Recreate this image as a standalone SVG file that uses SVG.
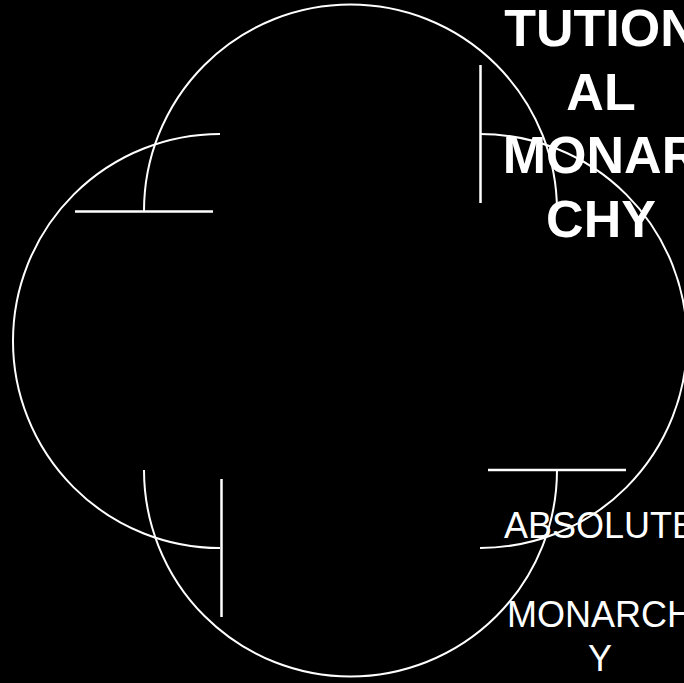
<svg xmlns="http://www.w3.org/2000/svg" width="684" height="683" viewBox="0 0 684 683">
  <style>
    .arc { fill: none; stroke: #ffffff; stroke-width: 2; }
    .bar { fill: none; stroke: #ffffff; stroke-width: 2.5; }
    .bold { font-family: "Liberation Sans", Arial, sans-serif; font-weight: bold; font-size: 52px; fill: #ffffff; text-anchor: middle; }
    .reg { font-family: "Liberation Sans", Arial, sans-serif; font-size: 36px; fill: #ffffff; text-anchor: middle; }
  </style>
  <rect x="0" y="0" width="684" height="683" fill="#000000"/>
  <g id="connectors">
    <g id="arc-top">
      <path class="arc" d="M144,211 A206.5,206.5 0 0 1 557,211"/>
      <line class="bar" x1="75" y1="211.5" x2="213" y2="211.5"/>
    </g>
    <g id="arc-right">
      <path class="arc" d="M480,134 A207,207 0 0 1 480,548"/>
      <line class="bar" x1="480.5" y1="65" x2="480.5" y2="203"/>
    </g>
    <g id="arc-bottom">
      <path class="arc" d="M557,470 A206.5,206.5 0 0 1 144,470"/>
      <line class="bar" x1="488" y1="470" x2="626" y2="470"/>
    </g>
    <g id="arc-left">
      <path class="arc" d="M220,548 A207,207 0 0 1 220,134"/>
      <line class="bar" x1="221.5" y1="479" x2="221.5" y2="617"/>
    </g>
  </g>
  <g id="node-constitutional">
    <text class="bold" x="601" y="46">TUTION</text>
    <text class="bold" x="601" y="110">AL</text>
    <text class="bold" x="601" y="173">MONAR</text>
    <text class="bold" x="601" y="237">CHY</text>
  </g>
  <g id="node-absolute">
    <text class="reg" x="600" y="538">ABSOLUTE</text>
    <text class="reg" x="600" y="627">MONARCH</text>
    <text class="reg" x="600" y="671">Y</text>
  </g>
</svg>
